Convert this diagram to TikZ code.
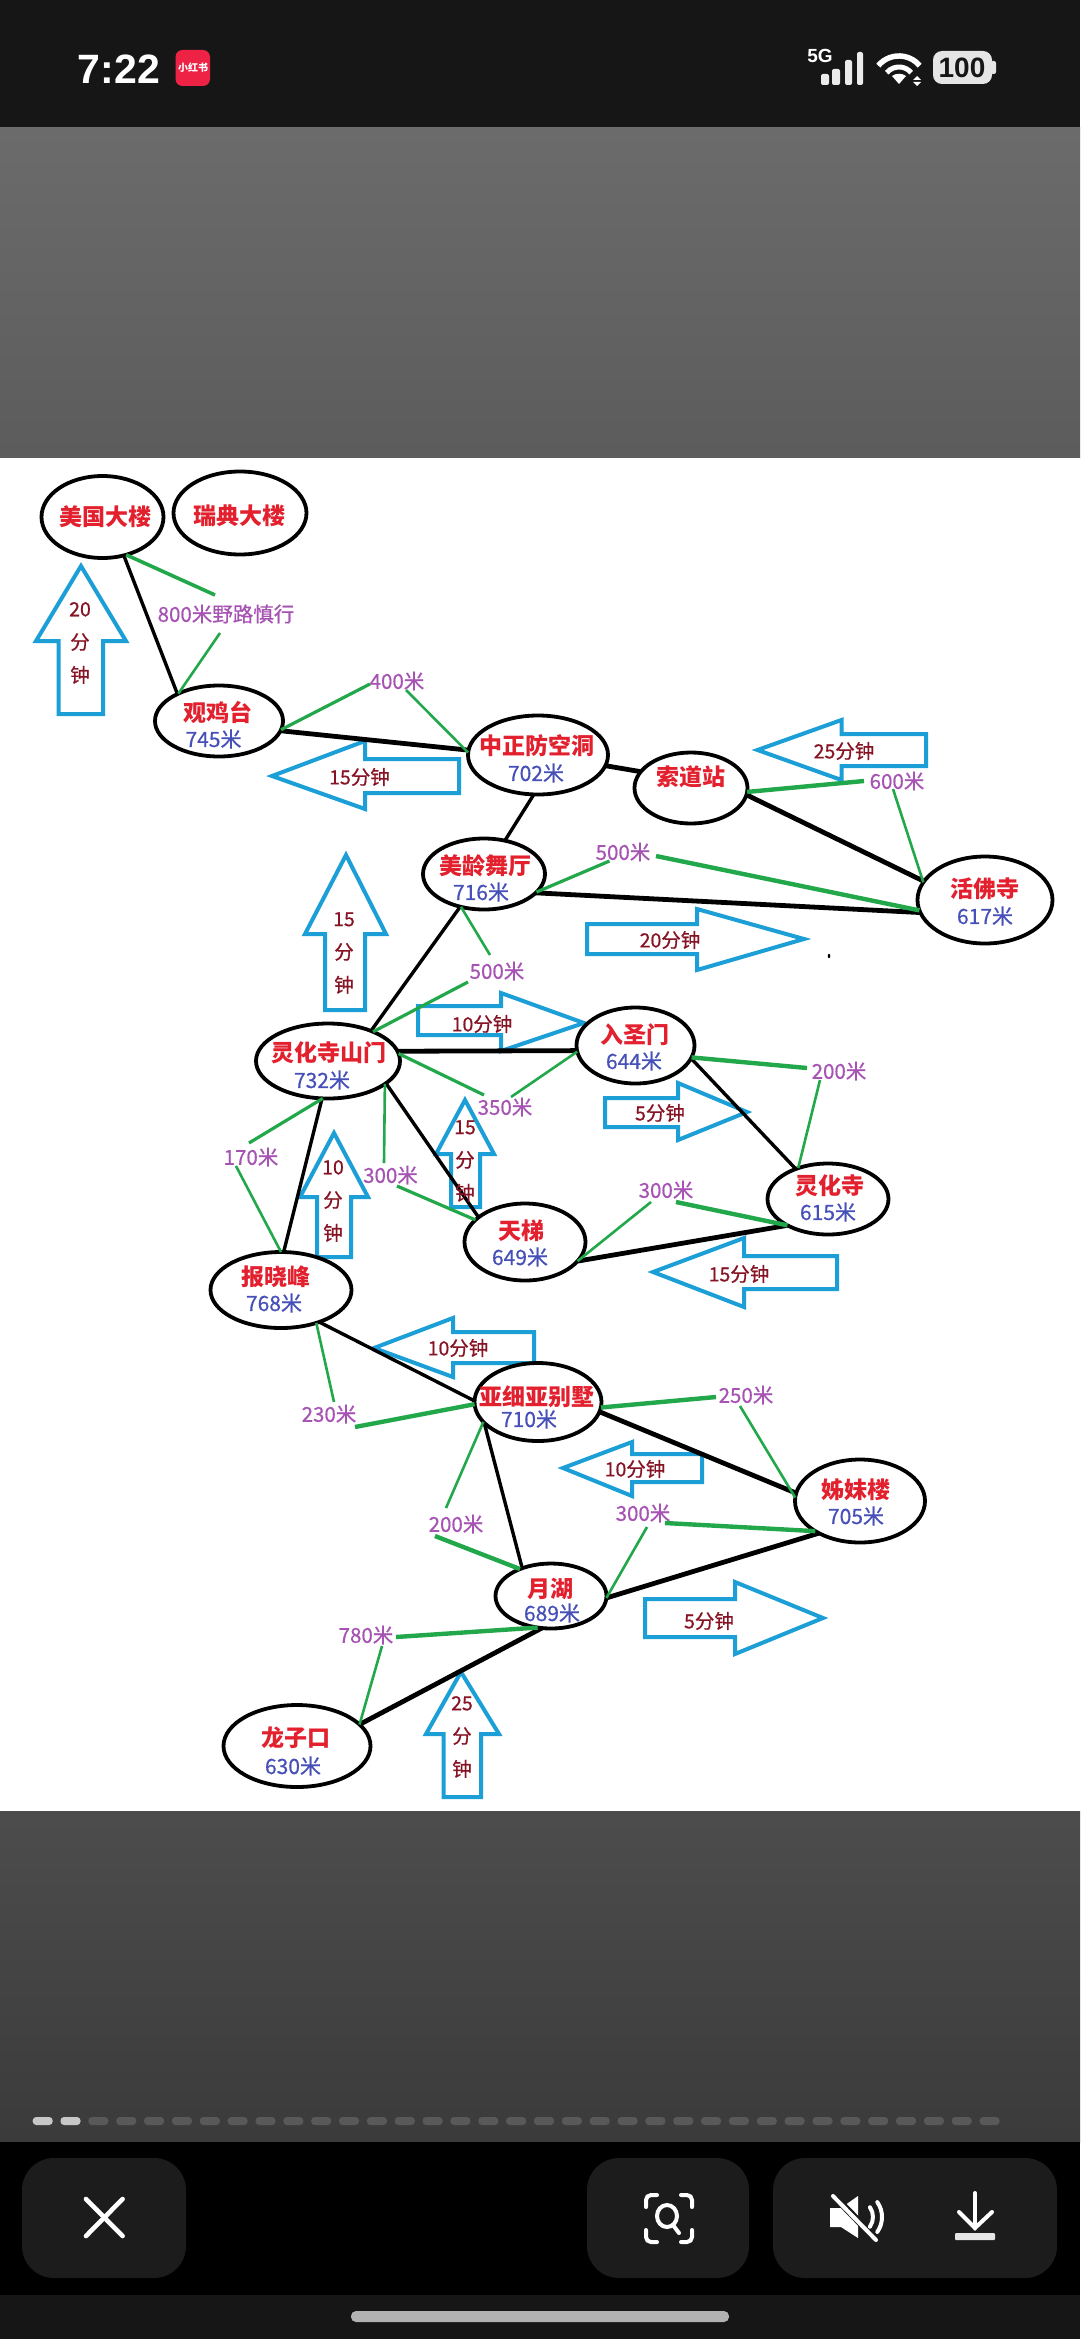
\documentclass[tikz,border=0pt]{standalone}
\usepackage{fontspec}
\usetikzlibrary{shapes.geometric}
\setmainfont{Noto Sans CJK SC}
\newfontfamily\uifont{Liberation Sans}
\newfontfamily\midfont[FakeBold=0.6]{Noto Sans CJK SC}
\definecolor{barblack}{HTML}{161616}
\definecolor{btnfill}{HTML}{1C1C1C}
\definecolor{titlered}{HTML}{E2202E}
\definecolor{altblue}{HTML}{4650B8}
\definecolor{timered}{HTML}{861424}
\definecolor{distpurple}{HTML}{A653B4}
\definecolor{hikegreen}{HTML}{22A84A}
\definecolor{arrowblue}{HTML}{1C9FD6}
\definecolor{appred}{HTML}{EE2244}
\tikzset{
  place/.style={draw=black,line width=3.8pt,ellipse,inner sep=0pt,outer sep=0pt,fill=white},
  titletext/.style={text=titlered,font=\fontsize{23}{26}\selectfont\bfseries,inner sep=0pt},
  alttext/.style={text=altblue,font=\midfont\fontsize{21}{24}\selectfont,inner sep=0pt},
  timetext/.style={text=timered,font=\midfont\fontsize{19.5}{33}\selectfont,inner sep=0pt,align=center},
  disttext/.style={text=distpurple,font=\midfont\fontsize{20.5}{24}\selectfont,inner sep=0pt},
  road/.style={draw=black,line width=3.4pt},
  roadthick/.style={draw=black,line width=4.8pt},
  hike/.style={draw=hikegreen,line width=2.6pt},
  hikethick/.style={draw=hikegreen,line width=4.4pt},
  timearrow/.style={draw=arrowblue,line width=4pt,miter limit=6},
  icon/.style={draw=white,line width=4pt,line cap=round},
  pagedot/.style={fill=gray!70!black,rounded corners=3.5pt},
  pagedoton/.style={fill=black!22,rounded corners=3.5pt},
  btn/.style={fill=btnfill,rounded corners=32pt}
}
\newcommand\BlockH[8]{\draw[timearrow] (#1,#5)--(#2,#5)--(#2,#7)--(#3,#4)--(#2,#8)--(#2,#6)--(#1,#6)--cycle;}
\newcommand\BlockV[8]{\draw[timearrow] (#5,#1)--(#5,#2)--(#7,#2)--(#4,#3)--(#8,#2)--(#6,#2)--(#6,#1)--cycle;}
\newcommand\Place[5]{\node[place,minimum width=#4pt,minimum height=#5pt] (#1) at (#2,#3) {};}
\begin{document}
\begin{tikzpicture}[x=1pt,y=-1pt]
\useasboundingbox (0,0) rectangle (1080,2339);
% screen backgrounds
\fill[barblack] (0,0) rectangle (1080,128);
\shade[top color=black!58,bottom color=black!64] (0,128) rectangle (1080,458);
\fill[white] (0,458) rectangle (1080,1811);
\shade[top color=black!70,bottom color=black!77] (0,1811) rectangle (1080,2142);
\fill[black] (0,2142) rectangle (1080,2295);
\fill[barblack] (0,2295) rectangle (1080,2339);
% status bar
\node[text=white,font=\uifont\fontsize{41}{44}\selectfont\bfseries,inner sep=0pt] (clock) at (119,69) {7:22};
\fill[appred,rounded corners=7pt] (175.5,50) rectangle (210,86);
\node[text=white,font=\fontsize{10}{12}\selectfont\bfseries,inner sep=0pt] (appname) at (193,68) {小红书};
\node[text=white,font=\uifont\fontsize{19}{20}\selectfont\bfseries,inner sep=0pt] (fiveg) at (820,56) {5G};
\fill[white!92!black,rounded corners=2pt] (821,74) rectangle (829,85);
\fill[white!92!black,rounded corners=2pt] (832,69) rectangle (840,85);
\fill[white!92!black,rounded corners=2pt] (845,60) rectangle (852,85);
\fill[white!92!black,rounded corners=2pt] (857,52) rectangle (863,85);
\draw[white,line width=5.5pt] (878.3,65.6) arc[start angle=220,end angle=320,radius=27];
\draw[white,line width=5pt] (886.7,72.7) arc[start angle=220,end angle=320,radius=16];
\fill[white] (899,84)--(892,76) .. controls (896,73) and (902,73) .. (906,76) -- cycle;
\fill[white] (917,76)--(921,80)--(913,80)--cycle;
\fill[white] (917,86)--(921,82)--(913,82)--cycle;
\fill[white!90!black,rounded corners=9pt] (933,51) rectangle (992,84);
\fill[white!90!black,rounded corners=2pt] (991,61) rectangle (996,74);
\node[text=barblack,font=\uifont\fontsize{28}{30}\selectfont\bfseries,inner sep=0pt] (battery) at (962,67.5) {100};
% time arrows
\BlockV{714}{641}{566}{81}{58.5}{103}{36}{126}
\BlockH{459}{365}{272}{776}{759}{793}{741}{809}
\BlockH{926}{841.5}{757.5}{750}{734}{766}{720}{780}
\BlockH{587}{697}{804}{939}{924}{954}{909}{970}
\BlockV{1010}{934}{855}{346}{325}{365}{305}{386}
\BlockH{418}{501}{584}{1023}{1006}{1035}{993}{1051}
\BlockH{605}{678}{747}{1112}{1098}{1127}{1083}{1140}
\BlockV{1207}{1154}{1100}{465}{451}{480}{436}{494}
\BlockV{1257}{1197}{1133}{334}{317}{351}{300}{368}
\BlockH{837}{744}{653}{1272}{1256}{1289}{1238}{1307}
\BlockH{534}{453}{374}{1348}{1332}{1363}{1318}{1377}
\BlockH{702}{632}{563}{1468}{1454}{1482}{1442}{1496}
\BlockH{645}{735}{823}{1618}{1599}{1637}{1582}{1654}
\BlockV{1797}{1734}{1672}{461}{443.5}{481}{426}{499}
% places
\Place{US}{102.5}{517}{122}{82}
\Place{SE}{240}{513}{133}{83}
\Place{GJ}{219}{721}{128}{71}
\Place{ZZ}{538}{755}{140}{79}
\Place{SD}{691}{788}{113}{71}
\Place{ML}{484}{874}{122}{71}
\Place{HF}{985}{900}{135}{87}
\Place{SM}{328}{1061}{144}{75}
\Place{RS}{635.5}{1045.5}{118}{76}
\Place{LH}{828}{1199}{121}{71}
\Place{TT}{525}{1242}{121}{77}
\Place{BX}{281}{1290}{141}{76}
\Place{YX}{538}{1402}{127}{78}
\Place{JM}{860}{1501}{130}{83}
\Place{YH}{551}{1596}{111}{65}
\Place{LZ}{297}{1746}{147}{82}
% distance labels
\node[disttext] (L800) at (226,614) {800米野路慎行};
\node[disttext] (L400) at (397,681) {400米};
\node[disttext] (L600) at (897,781) {600米};
\node[disttext] (L500a) at (623,852) {500米};
\node[disttext] (L500b) at (497,971) {500米};
\node[disttext] (L350) at (505,1107) {350米};
\node[disttext] (L200a) at (839,1071) {200米};
\node[disttext] (L170) at (251,1157) {170米};
\node[disttext] (L300a) at (390.5,1175) {300米};
\node[disttext] (L300b) at (666,1190) {300米};
\node[disttext] (L230) at (329,1414) {230米};
\node[disttext] (L250) at (746,1395) {250米};
\node[disttext] (L200b) at (456,1524) {200米};
\node[disttext] (L300c) at (643,1513) {300米};
\node[disttext] (L780) at (366,1635) {780米};
% roads
\draw[road] (US.-61) -- (GJ.147);
\draw[roadthick] (GJ.-9) -- (ZZ.176);
\draw[roadthick] (ZZ.-9) -- (SD.162);
\draw[road] (ZZ.-96) -- (ML.58);
\draw[roadthick] (SD.-7) -- (HF.163);
\draw[roadthick] (ML.-20) -- (HF.191.5);
\draw[road] (ML.-126) -- (SM.35);
\draw[roadthick] (SM.8) -- (RS.185);
\draw[road] (RS.-13.5) -- (LH.137);
\draw[road] (SM.-99) -- (BX.86);
\draw[road] (SM.-21.5) -- (TT.152);
\draw[roadthick] (TT.-20) -- (LH.213);
\draw[road] (BX.-40) -- (YX.179);
\draw[roadthick] (YX.-9) -- (JM.173);
\draw[road] (YX.201) -- (YH.136);
\draw[roadthick] (YH.-2) -- (JM.218);
\draw[roadthick] (YH.-106) -- (LZ.19);
% hiking distances
\draw[hikethick,line width=3.6pt] ([shift={(-11,-19)}]L800.center) -- (US.-58.5);
\draw[hike] ([shift={(-6,19)}]L800.center) -- (GJ.146);
\draw[hike,line width=3.2pt] ([shift={(-27,3)}]L400.center) -- (GJ.-8);
\draw[hike] ([shift={(9,9)}]L400.center) -- (ZZ.178);
\draw[hikethick] ([shift={(-33,0)}]L600.center) -- (SD.-4);
\draw[hike] ([shift={(-4,8)}]L600.center) -- (HF.164);
\draw[hike,line width=3.2pt] ([shift={(-13.5,9)}]L500a.center) -- (ML.-19);
\draw[hikethick] ([shift={(33,4)}]L500a.center) -- (HF.189.5);
\draw[hike] ([shift={(-7,-16)}]L500b.center) -- (ML.-125);
\draw[hike,line width=3.2pt] ([shift={(-29,11)}]L500b.center) -- (SM.33);
\draw[hike,line width=3.2pt] ([shift={(-21,-12)}]L350.center) -- (SM.6);
\draw[hike] ([shift={(6,-10)}]L350.center) -- (RS.186);
\draw[hikethick] ([shift={(-32,-3)}]L200a.center) -- (RS.-12.5);
\draw[hike] ([shift={(-19,9)}]L200a.center) -- (LH.134);
\draw[hike,line width=3.2pt] ([shift={(-2,-14)}]L170.center) -- (SM.-98);
\draw[hike] ([shift={(-15,9)}]L170.center) -- (BX.90);
\draw[hike] ([shift={(-6.5,-12)}]L300a.center) -- (SM.-22.6);
\draw[hike,line width=3.2pt] ([shift={(6.5,11)}]L300a.center) -- (TT.156);
\draw[hike] ([shift={(-15,12)}]L300b.center) -- (TT.-20);
\draw[hikethick] ([shift={(10,12)}]L300b.center) -- (LH.213);
\draw[hike] ([shift={(5,-12)}]L230.center) -- (BX.-43);
\draw[hikethick] ([shift={(26,13)}]L230.center) -- (YX.182);
\draw[hikethick] ([shift={(-30,2)}]L250.center) -- (YX.-5);
\draw[hike] ([shift={(-6,11)}]L250.center) -- (JM.177);
\draw[hike] ([shift={(-10,-16)}]L200b.center) -- (YX.200);
\draw[hikethick] ([shift={(-21,12)}]L200b.center) -- (YH.139);
\draw[hike] ([shift={(4,14)}]L300c.center) -- (YH.-2);
\draw[hikethick] ([shift={(22,10)}]L300c.center) -- (JM.214);
\draw[hikethick] ([shift={(30,2)}]L780.center) -- (YH.-113);
\draw[hike] ([shift={(16,11)}]L780.center) -- (LZ.19.5);
% place names and altitudes
\node[titletext] (tUS) at (105,517) {美国大楼};
\node[titletext] (tSE) at (239,516) {瑞典大楼};
\node[titletext] (tGJ) at (218,712) {观鸡台};
\node[alttext] (aGJ) at (213.5,739) {745米};
\node[titletext] (tZZ) at (537,746) {中正防空洞};
\node[alttext] (aZZ) at (536,773) {702米};
\node[titletext] (tSD) at (691,777) {索道站};
\node[titletext] (tML) at (485.5,866) {美龄舞厅};
\node[alttext] (aML) at (481,892) {716米};
\node[titletext] (tHF) at (985,889) {活佛寺};
\node[alttext] (aHF) at (985,916) {617米};
\node[titletext] (tSM) at (329,1053) {灵化寺山门};
\node[alttext] (aSM) at (322,1080) {732米};
\node[titletext] (tRS) at (635,1035) {入圣门};
\node[alttext] (aRS) at (634,1061) {644米};
\node[titletext] (tLH) at (830,1186) {灵化寺};
\node[alttext] (aLH) at (828,1212) {615米};
\node[titletext] (tTT) at (521,1231) {天梯};
\node[alttext] (aTT) at (520,1257) {649米};
\node[titletext] (tBX) at (275.5,1277) {报晓峰};
\node[alttext] (aBX) at (274,1303) {768米};
\node[titletext] (tYX) at (537,1397) {亚细亚别墅};
\node[alttext] (aYX) at (529,1419) {710米};
\node[titletext] (tJM) at (856,1490) {姊妹楼};
\node[alttext] (aJM) at (856,1516) {705米};
\node[titletext] (tYH) at (550,1589) {月湖};
\node[alttext] (aYH) at (552,1613) {689米};
\node[titletext] (tLZ) at (296,1738) {龙子口};
\node[alttext] (aLZ) at (293,1766) {630米};
% time labels
\node[timetext] (m1) at (80,643) {20\\分\\钟};
\node[timetext] (m2) at (359.5,777) {15分钟};
\node[timetext] (m3) at (844,751) {25分钟};
\node[timetext] (m4) at (670,940) {20分钟};
\node[timetext] (m5) at (344,953) {15\\分\\钟};
\node[timetext] (m6) at (482,1024) {10分钟};
\node[timetext] (m7) at (660,1113) {5分钟};
\node[timetext] (m8) at (465,1161) {15\\分\\钟};
\node[timetext] (m9) at (333,1201) {10\\分\\钟};
\node[timetext] (m10) at (739,1274) {15分钟};
\node[timetext] (m11) at (458,1348) {10分钟};
\node[timetext] (m12) at (635,1469) {10分钟};
\node[timetext] (m13) at (709,1621) {5分钟};
\node[timetext] (m14) at (462,1737) {25\\分\\钟};
% stray speck
\fill[black] (829,956) ellipse[x radius=1.3,y radius=2.2];
% page dots
\foreach \i in {2,...,34} {\fill[pagedot] ({32.7+27.85*\i},2117) rectangle ++(20,8);}
\fill[pagedoton] (32.7,2117) rectangle ++(20,8);
\fill[pagedoton] (60.5,2117) rectangle ++(20,8);
% bottom buttons
\fill[btn] (22,2158) rectangle (186,2278);
\fill[btn] (587,2158) rectangle (749,2278);
\fill[btn] (773,2158) rectangle (1057,2278);
\draw[icon,line width=4.6pt] (86,2199) -- (122.6,2236);
\draw[icon,line width=4.6pt] (122.6,2199) -- (86,2236);
% scan icon
\draw[icon,rounded corners=5pt] (646,2207)--(646,2195)--(657,2195);
\draw[icon,rounded corners=5pt] (681,2195)--(692,2195)--(692,2207);
\draw[icon,rounded corners=5pt] (692,2230)--(692,2242)--(681,2242);
\draw[icon,rounded corners=5pt] (657,2242)--(646,2242)--(646,2230);
\draw[icon] (667,2216) ellipse[x radius=10,y radius=11];
\draw[icon] (673,2225) -- (679,2233);
% mute icon
\fill[white] (830,2208)--(841,2208)--(858,2196)--(858,2238)--(841,2227)--(830,2227)--cycle;
\draw[btnfill,line width=7pt] (834,2196) -- (877,2240);
\draw[icon] (833,2196) -- (876,2240);
\draw[icon] (869.9,2207.2) arc[start angle=-35,end angle=35,radius=17];
\draw[icon] (877.3,2202.1) arc[start angle=-35,end angle=35,radius=26];
% download icon
\draw[icon] (975,2193) -- (975,2228);
\draw[icon] (959,2212) -- (975,2228) -- (992,2212);
\fill[white!90!black,rounded corners=1pt] (955,2233) rectangle (995,2240);
% home indicator
\fill[white!70!black,rounded corners=5pt] (351,2311) rectangle (729,2322);
\end{tikzpicture}
\end{document}
